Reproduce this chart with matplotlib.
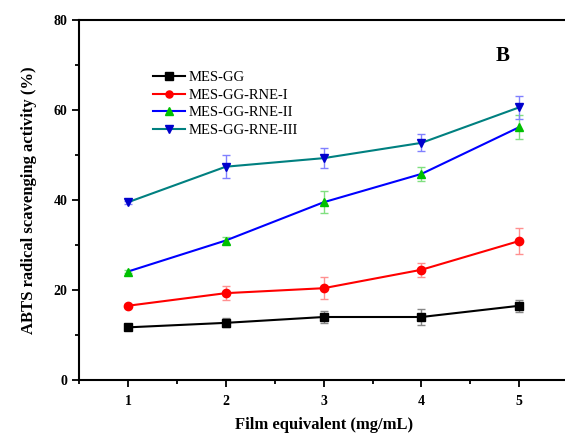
import matplotlib
matplotlib.use("Agg")
import matplotlib.pyplot as plt
from matplotlib.ticker import MultipleLocator

plt.rcParams['font.family'] = ['Liberation Serif', 'DejaVu Serif']

# data
conc = [1, 2, 3, 4, 5]
series_names = ["MES-GG", "MES-GG-RNE-I", "MES-GG-RNE-II", "MES-GG-RNE-III"]
mes_gg = [11.7, 12.7, 14.0, 14.0, 16.5]
mes_gg_err = [0.4, 1.0, 1.4, 1.8, 1.3]
rne_1 = [16.5, 19.3, 20.4, 24.5, 30.9]
rne_1_err = [0.3, 1.5, 2.4, 1.5, 2.8]
rne_2 = [24.1, 31.0, 39.5, 45.8, 56.2]
rne_2_err = [0.4, 0.8, 2.4, 1.6, 2.7]
rne_3 = [39.5, 47.4, 49.3, 52.7, 60.6]
rne_3_err = [0.3, 2.6, 2.2, 1.9, 2.6]

values = [mes_gg, rne_1, rne_2, rne_3]
errors = [mes_gg_err, rne_1_err, rne_2_err, rne_3_err]
line_colors = ["black", "#ff0000", "#0000ff", "#008080"]
marker_colors = ["black", "#ff0000", "#00c000", "#0000cc"]
err_colors = ["#888888", "#ff9090", "#80e080", "#8080ff"]
markers = ["s", "o", "^", "v"]

fig = plt.figure(figsize=(5.65, 4.33), dpi=100)
ax = fig.add_axes([0.1398, 0.1224, 0.866, 0.8314])

for y, e, name, lc, mc, ec, m in zip(values, errors, series_names,
                                     line_colors, marker_colors, err_colors, markers):
    ax.errorbar(conc, y, yerr=e, fmt='none', ecolor=ec, elinewidth=1,
                capsize=3, capthick=1, zorder=2)
    ax.plot(conc, y, color=lc, lw=1.5, marker=m, markersize=6,
            markerfacecolor=mc, markeredgecolor=mc, label=name, zorder=3)

ax.set_xlim(0.5, 5.5)
ax.set_ylim(0, 80)
ax.xaxis.set_major_locator(MultipleLocator(1))
ax.xaxis.set_minor_locator(MultipleLocator(0.5))
ax.yaxis.set_major_locator(MultipleLocator(20))
ax.yaxis.set_minor_locator(MultipleLocator(10))
ax.tick_params(which='both', direction='out', width=1.3)
ax.tick_params(which='major', length=5, labelsize=10)
ax.tick_params(axis='x', which='major', pad=6)
ax.tick_params(which='minor', length=3)
for lab in ax.get_xticklabels() + ax.get_yticklabels():
    lab.set_fontweight('bold')
for sp in ax.spines.values():
    sp.set_linewidth(1.5)
ax.spines['right'].set_visible(False)

ax.set_xlabel("Film equivalent (mg/mL)", fontsize=12, fontweight='bold', labelpad=6)
ax.set_ylabel("ABTS radical scavenging activity (%)", fontsize=12, fontweight='bold',
              labelpad=12)

ax.text(0.865, 0.9, "B", transform=ax.transAxes, fontsize=15, fontweight='bold',
        ha='center', va='center')

ax.legend(loc='upper left', bbox_to_anchor=(0.14, 0.875), frameon=False,
          fontsize=10.5, handlelength=2.2, labelspacing=0.3, handletextpad=0.2,
          borderaxespad=0, markerscale=0.85)

fig.savefig("out.png", dpi=100)
